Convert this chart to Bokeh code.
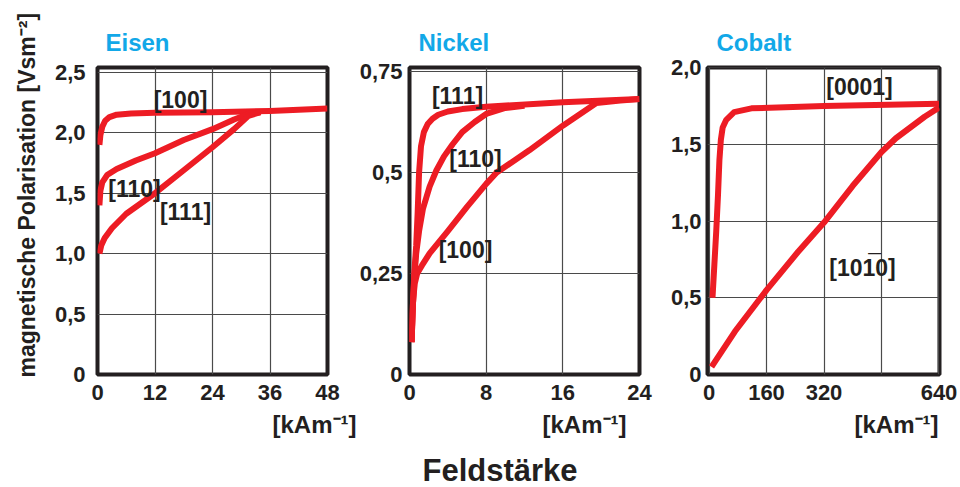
import math
from bokeh.plotting import figure
from bokeh.models import Label, FixedTicker, Range1d, Title
from bokeh.layouts import row
from bokeh.embed import file_html
from bokeh.resources import INLINE

# ---------------- data ----------------
panel_titles = ["Eisen", "Nickel", "Cobalt"]
x_unit = "[kAm⁻¹]"
x_title = "Feldstärke"
y_title = "magnetische Polarisation [Vsm⁻²]"

eisen_x_ticks = [0, 12, 24, 36, 48]
eisen_x_labels = ["0", "12", "24", "36", "48"]
eisen_y_ticks = [0, 0.5, 1.0, 1.5, 2.0, 2.5]
eisen_y_labels = ["0", "0,5", "1,0", "1,5", "2,0", "2,5"]

nickel_x_ticks = [0, 8, 16, 24]
nickel_x_labels = ["0", "8", "16", "24"]
nickel_y_ticks = [0, 0.25, 0.5, 0.75]
nickel_y_labels = ["0", "0,25", "0,5", "0,75"]

cobalt_x_ticks = [0, 160, 320, 480, 640]
cobalt_x_labels = ["0", "160", "320", "", "640"]
cobalt_y_ticks = [0, 0.5, 1.0, 1.5, 2.0]
cobalt_y_labels = ["0", "0,5", "1,0", "1,5", "2,0"]

eisen_100_x = [0.4, 0.6, 1.0, 1.6, 2.5, 4.0, 7.0, 12, 24, 36, 48]
eisen_100_y = [1.90, 1.98, 2.05, 2.10, 2.13, 2.15, 2.16, 2.165, 2.17, 2.18, 2.20]
eisen_110_x = [0.4, 0.6, 1.0, 2.0, 4.0, 8.0, 12, 18, 24, 28.5, 31.5, 34]
eisen_110_y = [1.40, 1.52, 1.59, 1.65, 1.70, 1.77, 1.83, 1.94, 2.03, 2.11, 2.155, 2.17]
eisen_111_x = [0.4, 0.8, 1.5, 3.0, 6.0, 12, 18, 24, 28.5, 31.5, 34]
eisen_111_y = [1.00, 1.07, 1.13, 1.21, 1.33, 1.50, 1.69, 1.88, 2.03, 2.14, 2.17]

nickel_111_x = [0.22, 0.35, 0.5, 0.7, 0.85, 1.0, 1.2, 1.5, 1.9, 2.4, 3.0, 4.0, 5.5, 8, 16, 24]
nickel_111_y = [0.08, 0.17, 0.25, 0.32, 0.40, 0.50, 0.565, 0.60, 0.62, 0.633, 0.643, 0.651, 0.657, 0.663, 0.674, 0.682]
nickel_110_x = [0.22, 0.35, 0.5, 0.7, 1.0, 1.4, 2.1, 2.8, 3.6, 4.5, 5.5, 6.8, 8, 10, 12]
nickel_110_y = [0.08, 0.17, 0.24, 0.30, 0.355, 0.41, 0.465, 0.505, 0.54, 0.57, 0.60, 0.625, 0.645, 0.66, 0.665]
nickel_100_x = [0.22, 0.3, 0.4, 0.55, 0.8, 1.3, 2.1, 4.0, 6.0, 8.0, 9.1, 12.5, 16, 19.5, 22, 24]
nickel_100_y = [0.08, 0.15, 0.19, 0.225, 0.25, 0.27, 0.30, 0.355, 0.415, 0.472, 0.50, 0.555, 0.616, 0.672, 0.678, 0.682]

cobalt_0001_x = [9.7, 15, 20, 25, 29, 33, 38, 48, 70, 118, 320, 640]
cobalt_0001_y = [0.50, 0.72, 0.93, 1.17, 1.40, 1.53, 1.61, 1.66, 1.71, 1.735, 1.75, 1.765]
cobalt_1010_x = [7, 72, 160, 248, 320, 400, 480, 520, 560, 600, 640]
cobalt_1010_y = [0.05, 0.28, 0.55, 0.80, 0.99, 1.23, 1.45, 1.54, 1.61, 1.68, 1.74]

# ---------------- style ----------------
FONT = "Liberation Sans"
RED = "#ED1C24"
INK = "#231F20"
BLUE = "#12A8E8"
GRID = "#4a4a4a"

TOTAL_H = 487
FRAME_TOP = 67
FRAME_H = 307


def title(txt, size, color=INK, align="left", offset=0, standoff=10):
    return Title(text=txt, align=align, offset=offset, standoff=standoff,
                 text_font=FONT, text_font_style="bold", text_font_size=size,
                 text_color=color)


class Panel:
    def __init__(self, left_px, width_px, xr, yr, bl, br, y_standoff):
        self.L = left_px
        self.W = width_px
        self.xr = xr
        self.yr = yr
        p = figure(frame_width=width_px, frame_height=FRAME_H,
                   min_border_left=bl, min_border_right=br,
                   min_border_top=FRAME_TOP,
                   min_border_bottom=TOTAL_H - FRAME_TOP - FRAME_H,
                   x_range=Range1d(*xr), y_range=Range1d(*yr),
                   output_backend="svg", toolbar_location=None, tools="")
        p.outline_line_color = INK
        p.outline_line_width = 4
        p.background_fill_color = "white"
        p.border_fill_color = "white"
        for ax in (p.xaxis[0], p.yaxis[0]):
            ax.axis_line_color = None
            ax.major_tick_line_color = None
            ax.minor_tick_line_color = None
            ax.major_tick_out = 0
            ax.major_tick_in = 0
            ax.major_label_text_font = FONT
            ax.major_label_text_font_style = "bold"
            ax.major_label_text_font_size = "22px"
            ax.major_label_text_color = INK
        p.xaxis[0].major_label_standoff = 10
        p.yaxis[0].major_label_standoff = y_standoff
        p.grid.grid_line_color = GRID
        p.grid.grid_line_width = 1.2
        self.p = p

    def dx(self, px):
        x0, x1 = self.xr
        return x0 + (px - self.L) / self.W * (x1 - x0)

    def dy(self, py):
        y0, y1 = self.yr
        return y0 + (FRAME_TOP + FRAME_H - py) / FRAME_H * (y1 - y0)

    def ticks(self, xt, xl, yt, yl):
        self.p.xaxis[0].ticker = FixedTicker(ticks=xt)
        self.p.yaxis[0].ticker = FixedTicker(ticks=yt)
        self.p.xgrid[0].ticker = FixedTicker(ticks=xt)
        self.p.ygrid[0].ticker = FixedTicker(ticks=yt)
        self.p.xaxis[0].major_label_overrides = dict(zip(xt, xl))
        self.p.yaxis[0].major_label_overrides = dict(zip(yt, yl))

    def curve(self, xs, ys):
        self.p.line(xs, ys, line_color=RED, line_width=6, line_join="round")

    def text(self, px, py, txt, size, align="center", baseline="middle"):
        self.p.add_layout(Label(x=self.dx(px), y=self.dy(py), text=txt,
                                text_font=FONT, text_font_style="bold",
                                text_font_size=size, text_color=INK,
                                text_align=align, text_baseline=baseline))


eisen = Panel(97, 230, (0, 48), (0, 2.54), 97, 29, 12)
nickel = Panel(408, 230, (0, 24), (0, 0.76), 52, 20, 7)
cobalt = Panel(706, 232, (-4.2, 641.4), (0, 2.001), 48, 22, 6)

eisen.ticks(eisen_x_ticks, eisen_x_labels, eisen_y_ticks, eisen_y_labels)
nickel.ticks(nickel_x_ticks, nickel_x_labels, nickel_y_ticks, nickel_y_labels)
cobalt.ticks(cobalt_x_ticks, cobalt_x_labels, cobalt_y_ticks, cobalt_y_labels)

eisen.curve(eisen_100_x, eisen_100_y)
eisen.curve(eisen_110_x, eisen_110_y)
eisen.curve(eisen_111_x, eisen_111_y)
nickel.curve(nickel_100_x, nickel_100_y)
nickel.curve(nickel_110_x, nickel_110_y)
nickel.curve(nickel_111_x, nickel_111_y)
cobalt.curve(cobalt_1010_x, cobalt_1010_y)
cobalt.curve(cobalt_0001_x, cobalt_0001_y)

# panel titles (above the frames)
eisen.p.add_layout(title(panel_titles[0], "24px", BLUE, "left", 8, 24), "above")
nickel.p.add_layout(title(panel_titles[1], "24px", BLUE, "left", 9, 24), "above")
cobalt.p.add_layout(title(panel_titles[2], "24px", BLUE, "left", 9, 24), "above")

# curve labels
eisen.text(180, 99, "[100]", "23px")
eisen.text(134, 188, "[110]", "23px")
eisen.text(185, 211, "[111]", "23px")
nickel.text(456, 95, "[111]", "23px")
nickel.text(474, 158, "[110]", "23px")
nickel.text(464, 249, "[100]", "23px")
cobalt.text(858, 86, "[0001]", "23px")
cobalt.text(861, 267, "[1010]", "23px")
cobalt.text(873, 262, "\u00af", "23px", baseline="alphabetic")

# units below each x axis
eisen.p.add_layout(title(x_unit, "24px", INK, "right", -29, 12), "below")
nickel.p.add_layout(title(x_unit, "24px", INK, "right", 13, 12), "below")
cobalt.p.add_layout(title(x_unit, "24px", INK, "right", 1, 12), "below")

# shared axis titles
nickel.p.add_layout(title(x_title, "31px", INK, "left", 13, 14), "below")
eisen.p.add_layout(title(y_title, "23px", INK, "left", -3, 23), "left")

layout = row(eisen.p, nickel.p, cobalt.p)
open("out.html", "w").write(file_html(layout, INLINE))
